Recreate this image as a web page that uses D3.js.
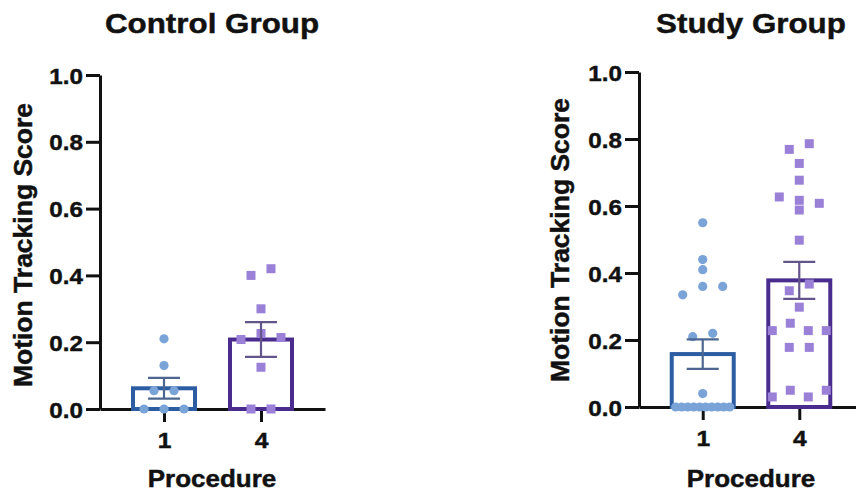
<!DOCTYPE html>
<html>
<head>
<meta charset="utf-8">
<script src="https://cdn.jsdelivr.net/npm/d3@7"></script>
<style>
  html, body { margin: 0; padding: 0; background: #fff; }
  svg { display: block; }
  text { font-family: "Liberation Sans", Arial, Helvetica, sans-serif; font-weight: bold; fill: #111; stroke: #111; stroke-width: 0.45px; }
</style>
</head>
<body>
<svg id="chart" width="856" height="500"></svg>
<script>
// ---------- data ----------
const panelTitles = ["Control Group", "Study Group"];
const procedures = ["1", "4"];
const yTicks = [0, 0.2, 0.4, 0.6, 0.8, 1.0];
const yLabel = "Motion Tracking Score";
const xLabel = "Procedure";

// individual subject scores (left-to-right order within a row)
const controlProc1 = [0.21, 0.13, 0.055, 0.055, 0, 0, 0];
const controlProc4 = [0.40, 0.42, 0.30, 0.208, 0.226, 0.214, 0.125, 0, 0];
const studyProc1 = [0.55, 0.44, 0.41, 0.335, 0.36, 0.36, 0.21, 0.22, 0.04,
                    0, 0, 0, 0, 0, 0, 0, 0, 0, 0];
const studyProc4 = [0.769, 0.786, 0.727, 0.677, 0.627, 0.617, 0.608, 0.588, 0.498,
                    0.347, 0.367, 0.298, 0.228, 0.25, 0.228, 0.228, 0.178, 0.178,
                    0.03, 0.05, 0.03, 0.05];

// bar heights (mean) and error bars (SEM)
const controlMeans = [0.062, 0.208];
const controlSEM = [0.031, 0.052];
const studyMeans = [0.158, 0.378];
const studySEM = [0.044, 0.055];

// ---------- styles ----------
const barStroke = ["#2c5da3", "#4a2b8e"];
const errStroke = ["#4d6690", "#64548c"];
const markerFill = ["#7aa3d8", "#9b80d8"];

const svg = d3.select("#chart");

const panels = [
  { title: panelTitles[0], points: [controlProc1, controlProc4], means: controlMeans, sems: controlSEM,
    axisX: 100, endX: 325, yBottom: 409, yTop: 75, titleX: 212, ylabX: 32, ylabY: 245 },
  { title: panelTitles[1], points: [studyProc1, studyProc4], means: studyMeans, sems: studySEM,
    axisX: 639, endX: 863, yBottom: 407, yTop: 72, titleX: 751, ylabX: 569, ylabY: 240 }
];

function layoutRows(values, y) {
  const order = values.map((v, i) => i).sort((a, b) => (values[b] - values[a]) || (a - b));
  const rows = [];
  let cur = null;
  order.forEach(i => {
    const py = y(values[i]);
    if (cur && py - cur.start <= 9) cur.members.push(i);
    else { cur = { start: py, members: [i] }; rows.push(cur); }
  });
  const offsets = new Array(values.length).fill(0);
  rows.forEach(r => {
    r.members.sort((a, b) => a - b);
    const n = r.members.length;
    const sp = n > 1 ? Math.min(20, 54 / (n - 1)) : 0;
    r.members.forEach((idx, j) => { offsets[idx] = (j - (n - 1) / 2) * sp; });
  });
  return offsets;
}

panels.forEach(p => {
  const g = svg.append("g");
  const y = d3.scaleLinear().domain([0, 1]).range([p.yBottom, p.yTop]);
  const x = d3.scalePoint().domain(procedures).range([p.axisX, p.endX]).padding(0.66);

  // title
  g.append("text")
    .attr("transform", `translate(${p.titleX},33) scale(1.12,1)`)
    .attr("text-anchor", "middle")
    .style("font-size", "28px")
    .text(p.title);

  // y axis
  const yAxis = g.append("g")
    .attr("transform", `translate(${p.axisX},0)`)
    .call(d3.axisLeft(y).tickValues(yTicks).tickFormat(d3.format(".1f")).tickSize(14).tickSizeOuter(0).tickPadding(4));
  yAxis.attr("font-size", 22).attr("font-family", null);
  yAxis.select(".domain").attr("stroke", "#111").attr("stroke-width", 3);
  yAxis.selectAll(".tick line").attr("stroke", "#111").attr("stroke-width", 3);
  yAxis.selectAll(".tick text")
    .style("font-size", "22px")
    .attr("fill", "#111")
    .attr("x", null)
    .attr("dy", null)
    .attr("text-anchor", "end")
    .attr("transform", "translate(-17,8) scale(1.1,1)");

  // x axis
  const xAxis = g.append("g")
    .attr("transform", `translate(0,${p.yBottom})`)
    .call(d3.axisBottom(x).tickSize(13).tickSizeOuter(0).tickPadding(8));
  xAxis.attr("font-size", 22).attr("font-family", null);
  xAxis.select(".domain").attr("stroke", "#111").attr("stroke-width", 3);
  xAxis.selectAll(".tick line").attr("stroke", "#111").attr("stroke-width", 3);
  xAxis.selectAll(".tick text")
    .style("font-size", "22px")
    .attr("fill", "#111")
    .attr("y", null).attr("dy", null)
    .attr("transform", "translate(0,39) scale(1.12,1)");

  // axis labels
  g.append("text")
    .attr("transform", `translate(${p.ylabX},${p.ylabY}) rotate(-90)`)
    .attr("text-anchor", "middle")
    .style("font-size", "26.5px")
    .text(yLabel);
  g.append("text")
    .attr("transform", `translate(${p.titleX},487) scale(1.13,1)`)
    .attr("text-anchor", "middle")
    .style("font-size", "23px")
    .text(xLabel);

  const barW = 62;
  // bars
  g.selectAll("rect.bar").data(procedures).join("rect")
    .attr("class", "bar")
    .attr("x", d => x(d) - barW / 2)
    .attr("y", (d, i) => y(p.means[i]))
    .attr("width", barW)
    .attr("height", (d, i) => y(0) - y(p.means[i]))
    .attr("fill", "none")
    .attr("stroke", (d, i) => barStroke[i])
    .attr("stroke-width", 4);

  // points
  procedures.forEach((proc, i) => {
    const vals = p.points[i];
    const offs = layoutRows(vals, y);
    const cx = x(proc);
    if (i === 0) {
      g.selectAll(null).data(vals).join("circle")
        .attr("cx", (d, k) => cx + offs[k])
        .attr("cy", d => y(d))
        .attr("r", 4.6)
        .attr("fill", markerFill[0]);
    } else {
      const s = 9;
      g.selectAll(null).data(vals).join("rect")
        .attr("x", (d, k) => cx + offs[k] - s / 2)
        .attr("y", d => y(d) - s / 2)
        .attr("width", s)
        .attr("height", s)
        .attr("fill", markerFill[1]);
    }
  });

  // error bars
  procedures.forEach((proc, i) => {
    const cx = x(proc);
    const hi = y(p.means[i] + p.sems[i]);
    const lo = y(p.means[i] - p.sems[i]);
    const eg = g.append("g").attr("stroke", errStroke[i]).attr("stroke-width", 2.2);
    eg.append("line").attr("x1", cx).attr("x2", cx).attr("y1", hi).attr("y2", lo);
    eg.append("line").attr("x1", cx - 16).attr("x2", cx + 16).attr("y1", hi).attr("y2", hi);
    eg.append("line").attr("x1", cx - 16).attr("x2", cx + 16).attr("y1", lo).attr("y2", lo);
  });
});
</script>
</body>
</html>
